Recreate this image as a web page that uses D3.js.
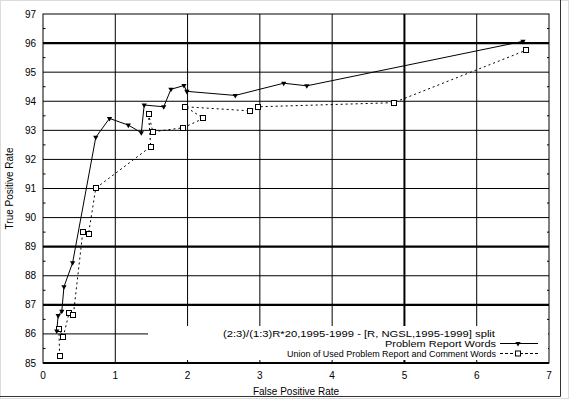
<!DOCTYPE html>
<html>
<head>
<meta charset="utf-8">
<script src="https://cdn.jsdelivr.net/npm/d3@7"></script>
<style>
	body { margin: 0; background: #fff; }
	text { font-family: "Liberation Sans", Arial, sans-serif; fill: #000; }
</style>
</head>
<body>
<div id="graph"></div>
<script>
var	width = 569,
	height = 399,
	margin = {top: 14, right: 20, bottom: 36, left: 43};

// series: Problem Report Words
var reportFP = [0.19, 0.21, 0.26, 0.29, 0.41, 0.73, 0.92, 1.18, 1.36, 1.40, 1.67, 1.77, 1.95, 1.99, 2.66, 3.33, 3.65, 6.64],
	reportTP = [86.10, 86.63, 86.78, 87.62, 88.45, 92.76, 93.41, 93.18, 92.92, 93.87, 93.81, 94.41, 94.54, 94.34, 94.20, 94.62, 94.53, 96.06];

// series: Union of Used Problem Report and Comment Words
var unionFP = [0.23, 0.22, 0.28, 0.36, 0.42, 0.55, 0.63, 0.73, 1.49, 1.46, 1.52, 1.94, 2.22, 1.97, 2.86, 2.98, 4.85, 6.68],
	unionTP = [85.25, 86.16, 85.90, 86.71, 86.65, 89.49, 89.44, 91.01, 92.44, 93.56, 92.95, 93.09, 93.41, 93.81, 93.67, 93.81, 93.95, 95.75];

var xTicks = [0, 1, 2, 3, 4, 5, 6, 7],
	yTicks = [85, 86, 87, 88, 89, 90, 91, 92, 93, 94, 95, 96, 97],
	boldX = [5],
	boldY = [96, 89, 87];

var legendTitle = "(2:3)/(1:3)R*20,1995-1999 - [R, NGSL,1995-1999] split",
	legendNames = ["Problem Report Words", "Union of Used Problem Report and Comment Words"];

var svg = d3.select('div#graph')
			.append('svg')
			.attr('width', width)
			.attr('height', height)
			.style('display', 'block')
			.style('background', '#fff');

var x = d3.scaleLinear()
			.domain([0, 7])
			.range([margin.left, 549]),
	y = d3.scaleLinear()
			.domain([85, 97])
			.range([363, margin.top]);

// window frame
svg.append("rect")
	.attr("x", 0.5).attr("y", 0.5)
	.attr("width", width - 1).attr("height", height - 1)
	.attr("fill", "none")
	.attr("stroke", "#b8b8b8")
	.attr("stroke-dasharray", "1,1");
svg.append("path")
	.attr("d", "M560.5,0V396.5H0")
	.attr("fill", "none")
	.attr("stroke", "#333");

// grid
var grid = svg.append("g").attr("class", "grid");
grid.selectAll("line.gx")
	.data(xTicks.slice(1, -1)).enter()
	.append("line")
	.attr("x1", function(d){ return x(d); })
	.attr("x2", function(d){ return x(d); })
	.attr("y1", y(97)).attr("y2", y(85))
	.attr("stroke", "#000")
	.attr("stroke-width", function(d){ return boldX.indexOf(d) >= 0 ? 2 : 1; });
grid.selectAll("line.gy")
	.data(yTicks.slice(1, -1)).enter()
	.append("line")
	.attr("x1", x(0)).attr("x2", x(7))
	.attr("y1", function(d){ return y(d); })
	.attr("y2", function(d){ return y(d); })
	.attr("stroke", "#000")
	.attr("stroke-width", function(d){ return boldY.indexOf(d) >= 0 ? 2.2 : 1; });

// minor ticks on both y axes
var halves = yTicks.slice(0, -1).map(function(d){ return d + 0.5; });
grid.selectAll("line.ml")
	.data(halves).enter()
	.append("line")
	.attr("x1", x(0)).attr("x2", x(0) + 2.5)
	.attr("y1", function(d){ return y(d); })
	.attr("y2", function(d){ return y(d); })
	.attr("stroke", "#000");
grid.selectAll("line.mr")
	.data(halves).enter()
	.append("line")
	.attr("x1", x(7) - 2).attr("x2", x(7))
	.attr("y1", function(d){ return y(d); })
	.attr("y2", function(d){ return y(d); })
	.attr("stroke", "#000");

// plot frame
svg.append("rect")
	.attr("x", x(0)).attr("y", y(97))
	.attr("width", x(7) - x(0)).attr("height", y(85) - y(97))
	.attr("fill", "none")
	.attr("stroke", "#000");
svg.append("line")
	.attr("x1", x(0)).attr("x2", x(7))
	.attr("y1", y(85)).attr("y2", y(85))
	.attr("stroke", "#000").attr("stroke-width", 2);

// tick labels
svg.append("g").selectAll("text")
	.data(yTicks).enter()
	.append("text")
	.attr("x", 36)
	.attr("y", function(d){ return y(d) + 3.5; })
	.attr("text-anchor", "end")
	.style("font-size", "10px")
	.text(function(d){ return d; });
svg.append("g").selectAll("text")
	.data(xTicks).enter()
	.append("text")
	.attr("x", function(d){ return x(d); })
	.attr("y", 379)
	.attr("text-anchor", "middle")
	.style("font-size", "10px")
	.text(function(d){ return d; });

svg.append("text")
	.attr("x", (x(0) + x(7)) / 2)
	.attr("y", 395)
	.attr("text-anchor", "middle")
	.style("font-size", "10px")
	.text("False Positive Rate");
svg.append("text")
	.attr("transform", "translate(13," + (y(91)) + ") rotate(-90)")
	.attr("text-anchor", "middle")
	.style("font-size", "10px")
	.text("True Positive Rate");

// series
var line = d3.line()
	.x(function(d){ return x(d[0]); })
	.y(function(d){ return y(d[1]); });

var report = reportFP.map(function(d, i){ return [d, reportTP[i]]; }),
	union = unionFP.map(function(d, i){ return [d, unionTP[i]]; });

var tri = d3.symbol().type(d3.symbolTriangle).size(12);

svg.append("path")
	.datum(union)
	.attr("d", line)
	.attr("fill", "none")
	.attr("stroke", "#000")
	.attr("stroke-dasharray", "2,3");
svg.append("path")
	.datum(report)
	.attr("d", line)
	.attr("fill", "none")
	.attr("stroke", "#000");

svg.append("g").selectAll("rect")
	.data(union).enter()
	.append("rect")
	.attr("x", function(d){ return Math.round(x(d[0])) - 2.5; })
	.attr("y", function(d){ return Math.round(y(d[1])) - 2.5; })
	.attr("width", 5).attr("height", 5)
	.attr("fill", "#fff")
	.attr("stroke", "#000");
svg.append("g").selectAll("path")
	.data(report).enter()
	.append("path")
	.attr("d", tri)
	.attr("transform", function(d){ return "translate(" + x(d[0]) + "," + y(d[1]) + ") rotate(180)"; })
	.attr("fill", "#000");

// legend
var legend = svg.append("g").attr("class", "legend");
legend.append("rect")
	.attr("x", 148).attr("y", 326)
	.attr("width", 400).attr("height", 34)
	.attr("fill", "#fff");
legend.append("text")
	.attr("x", 495).attr("y", 337)
	.attr("text-anchor", "end")
	.attr("textLength", 272)
	.attr("lengthAdjust", "spacingAndGlyphs")
	.style("font-size", "9.5px")
	.text(legendTitle);
legend.append("text")
	.attr("x", 496).attr("y", 347)
	.attr("text-anchor", "end")
	.attr("textLength", 111)
	.attr("lengthAdjust", "spacingAndGlyphs")
	.style("font-size", "9.5px")
	.text(legendNames[0]);
legend.append("text")
	.attr("x", 496).attr("y", 357)
	.attr("text-anchor", "end")
	.attr("textLength", 209)
	.attr("lengthAdjust", "spacingAndGlyphs")
	.style("font-size", "9.5px")
	.text(legendNames[1]);
legend.append("line")
	.attr("x1", 500).attr("x2", 538)
	.attr("y1", 343.5).attr("y2", 343.5)
	.attr("stroke", "#000");
legend.append("path")
	.attr("d", tri)
	.attr("transform", "translate(518,343.5) rotate(180)")
	.attr("fill", "#000");
legend.append("line")
	.attr("x1", 500).attr("x2", 538)
	.attr("y1", 353.5).attr("y2", 353.5)
	.attr("stroke", "#000")
	.attr("stroke-dasharray", "3,2");
legend.append("rect")
	.attr("x", 515.5).attr("y", 351)
	.attr("width", 5).attr("height", 5)
	.attr("fill", "#fff")
	.attr("stroke", "#000");
</script>
</body>
</html>
